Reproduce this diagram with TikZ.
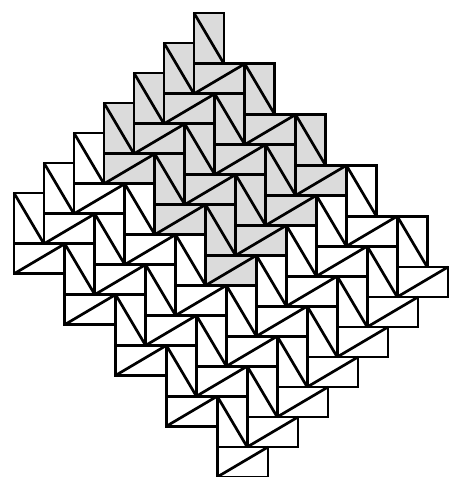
\documentclass[tikz,border=0pt]{standalone}
\begin{document}
\begin{tikzpicture}[x=1pt,y=-1pt,
  tile/.style={draw=black, line width=2.7pt, line join=miter},
  shaded/.style={fill=black!14}]
\useasboundingbox (0,0) rectangle (450,477);
\def\A{30}
\def\B{50.8}
% fills first
\foreach \i in {0,...,6}{
  \foreach \j in {0,...,4}{
    \pgfmathsetmacro\x{194-\A*\i+\B*\j}
    \pgfmathsetmacro\y{13+\A*\i+\B*\j}
    \pgfmathtruncatemacro\g{(\i<4)&&(\j<3)}
    \ifnum\g=1
      \fill[shaded] (\x,\y) rectangle (\x+\A,\y+\B);
      \fill[shaded] (\x,\y+\B) rectangle (\x+\B,\y+\B+\A);
    \fi
  }
}
% outlines and diagonals
\foreach \i in {0,...,6}{
  \foreach \j in {0,...,4}{
    \pgfmathsetmacro\x{194-\A*\i+\B*\j}
    \pgfmathsetmacro\y{13+\A*\i+\B*\j}
    \draw[tile] (\x,\y) rectangle (\x+\A,\y+\B);
    \draw[tile] (\x,\y) -- (\x+\A,\y+\B);
    \draw[tile] (\x,\y+\B) rectangle (\x+\B,\y+\B+\A);
    \draw[tile] (\x,\y+\B+\A) -- (\x+\B,\y+\B);
  }
}
\end{tikzpicture}
\end{document}
